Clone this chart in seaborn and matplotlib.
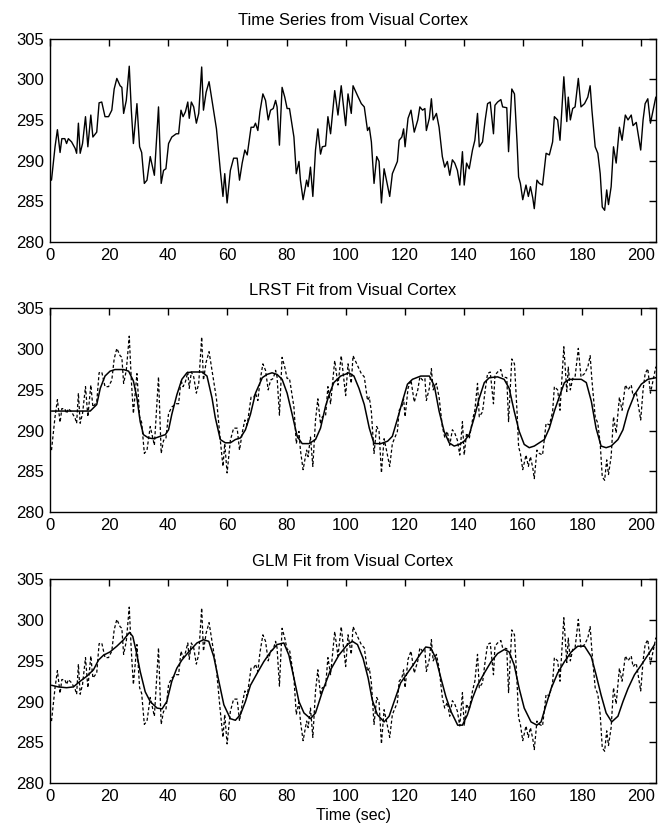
import matplotlib
matplotlib.use('Agg')
import matplotlib.pyplot as plt
import numpy as np
import pandas as pd
import seaborn as sns

# raw BOLD time series (time in sec, signal)
series_t = [0.5, 1.7, 2.5, 3.4, 4.0, 5.0, 5.6, 6.2, 7.3, 8.5, 9.0, 9.6, 10.2, 11.0, 12.0,
            12.8, 13.8, 14.5, 15.8, 16.6, 17.5, 18.6, 19.8, 20.9, 21.7, 22.6, 23.7, 24.3,
            24.9, 25.8, 26.8, 27.5, 28.2, 29.4, 30.3, 31.0, 31.9, 32.8, 33.9, 35.3, 36.7,
            37.6, 38.4, 39.2, 40.1, 41.2, 42.7, 43.5, 44.3, 45.0, 45.8, 46.6, 47.1, 47.8,
            48.6, 49.5, 50.3, 51.3, 51.9, 52.8, 53.8, 54.8, 56.3, 57.6, 58.5, 59.1, 59.9,
            61.0, 62.1, 63.3, 64.1, 65.0, 65.9, 66.7, 68.0, 68.9, 69.5, 70.3, 71.0, 72.0,
            72.9, 73.8, 74.6, 75.5, 76.3, 76.8, 77.6, 78.5, 79.4, 80.2, 81.0, 81.9, 82.5,
            83.3, 84.2, 84.7, 85.6, 86.8, 87.3, 88.1, 88.9, 89.8, 90.6, 91.5, 92.1, 93.2,
            94.0, 94.9, 96.3, 97.4, 98.5, 100.0, 100.8, 101.9, 102.5, 104.0, 105.3, 106.3,
            107.4, 108.0, 108.7, 109.6, 110.5, 111.3, 112.1, 113.0, 113.8, 114.9, 115.8,
            117.5, 118.1, 119.0, 119.6, 120.1, 121.1, 122.1, 123.2, 124.4, 125.1, 126.0,
            126.8, 127.3, 128.3, 129.0, 129.6, 130.7, 131.6, 132.7, 133.5, 134.4, 135.2,
            136.1, 136.9, 137.8, 138.6, 139.5, 140.1, 140.9, 141.8, 142.9, 143.7, 144.6,
            145.2, 146.3, 147.2, 148.0, 148.9, 150.0, 150.5, 151.4, 152.5, 153.1, 154.5,
            155.1, 156.2, 157.1, 158.0, 158.5, 159.1, 159.9, 161.0, 161.8, 162.5, 163.3,
            163.8, 164.7, 165.5, 166.6, 167.8, 168.9, 170.0, 170.6, 171.7, 172.5, 173.8,
            174.8, 175.3, 176.0, 176.8, 177.6, 178.7, 179.6, 180.8, 181.9, 182.7, 183.3,
            184.4, 185.3, 186.1, 186.8, 187.6, 188.3, 188.9, 189.8, 190.6, 191.5, 192.6,
            193.5, 194.6, 195.5, 196.6, 197.2, 198.3, 199.8, 200.6, 201.3, 202.2, 203.1,
            204.0, 204.9, 205.7]
series_v = [287.6, 291.7, 293.8, 291.0, 292.7, 292.7, 292.1, 292.7, 292.3, 291.5, 290.9,
            294.6, 290.9, 292.1, 295.4, 291.7, 295.6, 292.9, 293.5, 297.1, 297.2, 295.4,
            295.4, 296.2, 298.8, 300.1, 299.2, 299.0, 295.8, 297.4, 301.6, 296.2, 292.1,
            297.0, 291.7, 291.0, 287.2, 287.6, 290.5, 288.2, 296.6, 287.2, 288.8, 289.0,
            292.1, 292.9, 293.3, 293.3, 296.2, 295.4, 296.0, 297.2, 295.2, 297.2, 296.6,
            294.6, 295.8, 301.5, 296.2, 298.4, 299.7, 297.4, 293.9, 288.8, 285.6, 288.4,
            284.8, 288.8, 290.3, 290.3, 287.6, 289.7, 291.3, 290.7, 294.1, 294.1, 294.6,
            293.7, 296.0, 298.2, 297.4, 295.0, 296.2, 296.4, 297.4, 296.6, 291.9, 299.0,
            297.8, 296.4, 296.4, 294.3, 292.9, 288.4, 289.9, 287.6, 285.2, 287.6, 286.8,
            289.2, 285.6, 291.3, 293.9, 290.8, 291.7, 291.8, 295.4, 293.3, 298.6, 295.6,
            299.2, 294.3, 298.2, 295.8, 299.2, 298.0, 297.0, 296.6, 293.7, 294.1, 292.3,
            287.2, 290.5, 289.9, 284.8, 289.0, 287.6, 285.6, 288.4, 289.9, 292.5, 292.9,
            293.9, 291.7, 295.2, 296.2, 293.5, 295.0, 296.6, 296.2, 296.4, 293.7, 295.2,
            297.6, 295.0, 295.8, 294.1, 290.5, 289.2, 289.9, 288.2, 290.1, 289.7, 288.8,
            287.0, 291.1, 287.0, 289.7, 289.0, 291.3, 292.5, 295.8, 291.7, 292.3, 295.0,
            297.0, 297.2, 293.3, 296.8, 297.2, 297.5, 296.6, 296.5, 291.1, 298.8, 298.2,
            292.1, 288.0, 287.2, 285.2, 287.0, 285.6, 286.8, 285.4, 284.1, 287.6, 287.2,
            287.0, 290.9, 290.7, 292.3, 295.4, 295.0, 292.5, 300.3, 294.8, 297.8, 295.0,
            296.4, 296.6, 300.1, 296.6, 297.0, 297.8, 299.2, 296.2, 291.7, 290.9, 288.4,
            284.3, 283.9, 286.4, 284.6, 286.8, 291.7, 289.7, 294.1, 292.5, 295.6, 295.0,
            295.6, 294.3, 294.7, 291.3, 295.0, 297.0, 297.6, 294.6, 296.2, 297.8, 297.8]

# LRST fitted response (middle panel)
lrst_t = [0.5, 13.6, 15.8, 17.0, 18.6, 20.3, 22.0, 24.9, 26.6, 28.2, 29.4, 30.5, 31.6,
          33.3, 35.0, 37.3, 39.0, 40.1, 41.2, 42.9, 44.6, 46.3, 48.0, 51.4, 53.1, 54.8,
          55.9, 57.6, 59.3, 61.0, 62.7, 64.4, 66.1, 67.8, 69.5, 71.8, 73.4, 75.1, 76.8,
          78.5, 80.2, 81.9, 83.6, 85.3, 87.6, 89.8, 91.5, 93.2, 94.4, 96.0, 98.3, 101.1,
          102.8, 104.5, 106.3, 108.0, 109.6, 111.9, 114.2, 115.8, 117.5, 119.2, 120.9,
          122.6, 125.4, 128.3, 130.0, 131.6, 133.3, 135.0, 136.7, 138.4, 140.1, 141.8,
          143.5, 145.2, 146.9, 148.6, 151.4, 153.6, 155.3, 157.0, 158.7, 160.4, 162.1,
          163.8, 165.5, 167.2, 168.9, 170.6, 172.3, 174.0, 175.7, 179.7, 181.4, 183.1,
          184.7, 186.4, 188.1, 189.8, 192.1, 193.8, 195.5, 197.7, 200.0, 202.2, 205.0]
lrst_v = [292.4, 292.4, 293.2, 295.2, 296.7, 297.3, 297.5, 297.5, 297.3, 296.1, 294.0,
          291.1, 289.5, 289.1, 289.0, 289.3, 289.5, 290.1, 292.0, 294.4, 296.3, 297.1,
          297.2, 297.2, 296.7, 294.0, 291.6, 288.9, 288.5, 288.5, 288.9, 289.1, 290.1,
          292.0, 294.6, 296.5, 296.9, 297.1, 296.9, 296.3, 294.6, 292.0, 289.3, 288.4,
          288.4, 288.9, 290.3, 293.0, 294.4, 295.9, 296.7, 297.1, 296.7, 295.2, 293.2,
          290.3, 288.4, 288.4, 288.7, 289.3, 291.4, 293.6, 295.7, 296.3, 296.7, 296.7,
          295.5, 292.4, 289.9, 288.5, 288.1, 288.3, 288.7, 289.5, 291.6, 294.0, 295.9,
          296.5, 296.6, 296.3, 295.2, 292.4, 289.9, 288.3, 287.9, 288.1, 288.5, 288.9,
          290.3, 292.4, 294.2, 295.9, 296.3, 296.3, 295.9, 293.6, 290.3, 288.1, 287.9,
          288.1, 288.9, 290.1, 292.4, 294.4, 295.7, 296.3, 296.5]

# GLM fitted response (bottom panel)
glm_t = [0.5, 2.8, 5.6, 7.9, 10.2, 12.4, 14.7, 16.4, 18.1, 20.3, 22.6, 24.9, 26.9, 28.0,
         29.2, 30.5, 32.2, 33.9, 36.2, 37.9, 39.5, 41.2, 42.9, 44.6, 46.9, 49.7, 51.9,
         53.7, 55.4, 57.1, 58.8, 61.0, 62.7, 64.4, 66.1, 67.8, 70.1, 72.3, 74.6, 76.8,
         79.1, 80.8, 82.5, 84.2, 85.9, 88.1, 89.8, 92.1, 94.9, 97.7, 100.6, 102.3,
         104.0, 105.9, 107.6, 109.0, 110.7, 113.0, 114.7, 116.4, 118.6, 120.9, 123.2,
         125.4, 127.1, 128.8, 130.5, 132.2, 133.9, 135.6, 137.9, 139.5, 141.2, 142.9,
         144.6, 146.9, 149.2, 151.4, 153.7, 155.3, 157.0, 158.7, 160.4, 162.7, 164.7,
         166.1, 167.8, 169.5, 171.7, 174.0, 176.3, 178.5, 180.8, 183.1, 184.7, 186.4,
         188.1, 190.0, 192.1, 193.8, 195.5, 197.7, 200.0, 202.2, 204.5]
glm_v = [292.0, 291.8, 291.7, 291.8, 292.5, 293.1, 293.9, 295.1, 295.7, 296.1, 296.8,
         297.6, 298.5, 298.0, 296.1, 293.7, 291.2, 290.0, 289.2, 289.1, 290.0, 292.5,
         294.1, 295.1, 296.1, 297.2, 297.6, 297.4, 295.5, 292.5, 289.6, 287.9, 287.7,
         288.4, 290.0, 292.0, 293.5, 294.9, 296.1, 297.0, 297.2, 295.7, 292.9, 290.0,
         288.6, 287.9, 288.6, 291.2, 293.9, 295.7, 297.0, 297.4, 297.0, 295.3, 292.9,
         290.2, 288.4, 287.5, 288.2, 290.0, 292.3, 293.5, 294.7, 295.9, 296.7, 296.6,
         295.3, 292.9, 290.6, 288.8, 287.1, 287.1, 288.4, 290.4, 292.0, 293.5, 294.9,
         295.9, 296.4, 296.1, 294.5, 291.6, 289.2, 287.5, 287.1, 287.5, 289.6, 291.6,
         293.5, 294.9, 296.1, 296.8, 296.8, 295.5, 293.3, 290.8, 288.6, 287.5, 288.2,
         290.0, 291.6, 293.3, 294.5, 295.7, 297.0]

titles = ['Time Series from Visual Cortex', 'LRST Fit from Visual Cortex',
          'GLM Fit from Visual Cortex']
xticks = [0, 20, 40, 60, 80, 100, 120, 140, 160, 180, 200]
yticks = [280, 285, 290, 295, 300, 305]

raw = pd.DataFrame({'time': series_t, 'signal': series_v})
lrst = pd.DataFrame({'time': lrst_t, 'signal': lrst_v})
glm = pd.DataFrame({'time': glm_t, 'signal': glm_v})

sns.set_style('white')
plt.rcParams['font.family'] = ['Liberation Sans', 'DejaVu Sans']
plt.rcParams['text.color'] = 'black'
plt.rcParams['axes.labelcolor'] = 'black'

fig = plt.figure(figsize=(6.66, 8.34), dpi=100)
bottoms = [0.7098, 0.3861, 0.0612]
axes = [fig.add_axes([0.0751, b, 0.910, 0.2440]) for b in bottoms]

sns.lineplot(data=raw, x='time', y='signal', ax=axes[0], color='black',
             linewidth=1.0, estimator=None)

for ax, fit in zip(axes[1:], [lrst, glm]):
    sns.lineplot(data=raw, x='time', y='signal', ax=ax, color='black',
                 linewidth=0.9, estimator=None, linestyle=(0, (2.5, 1.8)))
    sns.lineplot(data=fit, x='time', y='signal', ax=ax, color='black',
                 linewidth=1.1, estimator=None)

for ax, title in zip(axes, titles):
    ax.set_xlim(0, 205)
    ax.set_ylim(280, 305)
    ax.set_xticks(xticks)
    ax.set_yticks(yticks)
    ax.set_title(title, fontsize=12, pad=10, color='black')
    ax.set_xlabel('')
    ax.set_ylabel('')
    ax.tick_params(direction='in', length=5, width=1, top=True, right=True,
                   labelsize=12, pad=4, colors='black')
    for spine in ax.spines.values():
        spine.set_color('black')
        spine.set_linewidth(1.0)

axes[2].set_xlabel('Time (sec)', fontsize=11.5, labelpad=3, color='black')

fig.savefig('out.png', dpi=100)
